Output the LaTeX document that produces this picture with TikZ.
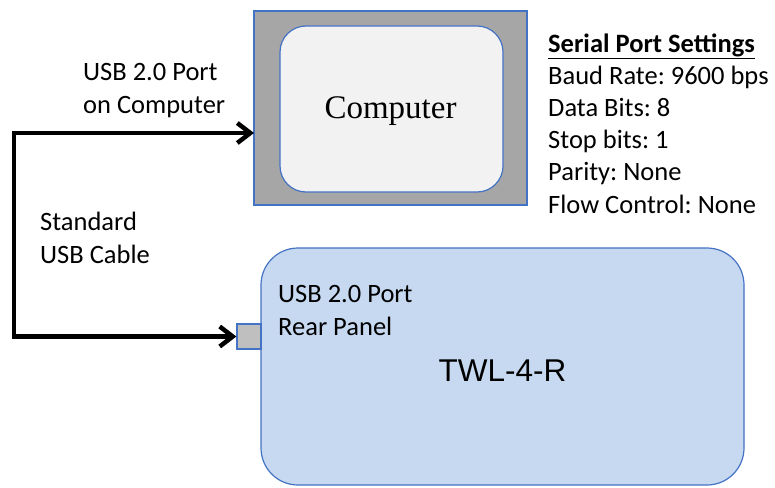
\documentclass[tikz,border=0pt]{standalone}
\usepackage{fontspec}
\setmainfont{Carlito}
\newfontfamily\serifcomp{Liberation Serif}
\newfontfamily\arialfont{Liberation Sans}
\usetikzlibrary{arrows.meta}
\definecolor{edgeblue}{RGB}{68,114,196}
\definecolor{outergray}{RGB}{166,166,166}
\definecolor{innergray}{RGB}{242,242,242}
\definecolor{portgray}{RGB}{191,191,191}
\definecolor{twlblue}{RGB}{198,217,240}
\frenchspacing
\tikzset{
  lbl/.style={inner sep=0pt, anchor=base west, align=left, font=\fontsize{26.5}{32.2}\selectfont},
  cable/.style={line width=4.5pt, {Straight Barb[length=13pt,width=20pt]}-{Straight Barb[length=13pt,width=20pt]}},
  shell/.style={draw=edgeblue, line width=1.2pt},
}
\begin{document}
\begin{tikzpicture}[x=1pt,y=-1pt]
\useasboundingbox (0,0) rectangle (775,487);
% Computer
\draw[shell, fill=outergray] (254,11) rectangle (527,205);
\node[shell, fill=innergray, rounded corners=26pt, minimum width=223pt, minimum height=166pt, inner sep=0pt] (comp) at (391.5,109) {};
\node[font=\serifcomp\fontsize{33}{38}\selectfont, inner sep=0pt] (comptext) at (390.5,111) {Computer};
\coordinate (compin) at (254,133);
% TWL
\node[shell, fill=twlblue, rounded corners=37pt, minimum width=483pt, minimum height=237pt, inner sep=0pt] (twl) at (502.5,366.5) {};
\node[shell, fill=portgray, minimum width=24pt, minimum height=25pt, inner sep=0pt] (port) at (249,336.5) {};
\node[font=\arialfont\fontsize{31.5}{36}\selectfont, inner sep=0pt, anchor=base] (twltext) at (502.5,381) {TWL-4-R};
% Labels (base = baseline of last line)
\node[lbl] (usbcomp) at (83,113) {USB 2.0 Port\\on Computer};
\node[lbl] (cablelbl) at (40,263) {Standard\\USB Cable};
\node[lbl] (usbrear) at (278,335) {USB 2.0 Port\\Rear Panel};
\node[lbl] (serial) at (548,213) {\textbf{\underline{Serial Port Settings}}\\Baud Rate: 9600 bps\\Data Bits: 8\\Stop bits: 1\\Parity: None\\Flow Control: None};
% Cable
\draw[cable] (compin) -- ++(-240,0) |- (port.west);
\end{tikzpicture}
\end{document}
